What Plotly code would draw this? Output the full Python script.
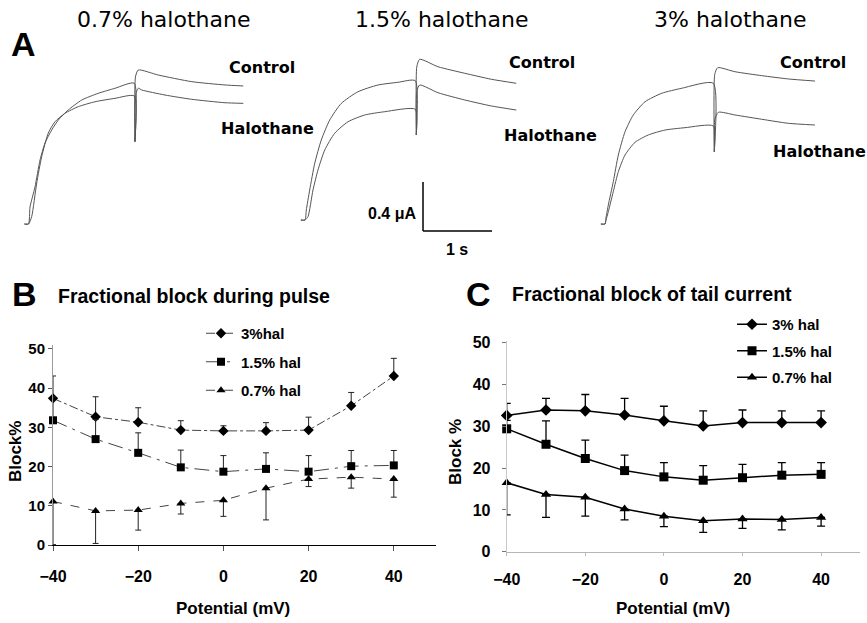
import plotly.graph_objects as go

W, H = 867, 623

# ---------------- Panel A: current traces (time in s, current in uA) ----------------
a_titles = ["0.7% halothane", "1.5% halothane", "3% halothane"]

p1_ctrl_t = [-0.06, 0, 0.022, 0.094, 0.167, 0.239, 0.336, 0.432, 0.577, 0.771, 1.012, 1.254, 1.533, 1.543, 1.55, 1.591, 1.881, 2.365, 2.848, 3.113]
p1_ctrl_i = [0, 0, 0.139, 0.302, 0.522, 0.661, 0.767, 0.849, 0.931, 1.012, 1.067, 1.108, 1.149, 0.672, 1.20, 1.257, 1.216, 1.162, 1.135, 1.127]
p1_hal_t = [-0.06, 0, 0.046, 0.119, 0.191, 0.287, 0.384, 0.529, 0.722, 0.964, 1.254, 1.533, 1.543, 1.55, 1.591, 1.641, 1.978, 2.365, 2.848, 3.113]
p1_hal_i = [0, 0, 0.060, 0.335, 0.549, 0.743, 0.835, 0.904, 0.958, 0.998, 1.026, 1.045, 0.672, 1.05, 1.108, 1.094, 1.053, 1.018, 0.990, 0.985]

p2_ctrl_t = [-0.06, 0, 0.019, 0.068, 0.141, 0.236, 0.358, 0.526, 0.768, 1.058, 1.348, 1.599, 1.613, 1.62, 1.662, 1.928, 2.314, 2.700, 3.062]
p2_ctrl_i = [0, 0, 0.082, 0.245, 0.463, 0.653, 0.816, 0.952, 1.047, 1.102, 1.124, 1.137, 0.694, 1.25, 1.312, 1.251, 1.198, 1.149, 1.116]
p2_hal_t = [-0.06, 0, 0.043, 0.116, 0.188, 0.286, 0.430, 0.623, 0.865, 1.155, 1.599, 1.613, 1.62, 1.662, 1.928, 2.314, 2.700, 3.062]
p2_hal_i = [0, 0, 0.027, 0.245, 0.408, 0.571, 0.708, 0.802, 0.857, 0.884, 0.904, 0.694, 1.05, 1.102, 1.039, 0.980, 0.931, 0.898]

p3_ctrl_t = [-0.06, 0, 0.014, 0.048, 0.120, 0.193, 0.290, 0.410, 0.580, 0.822, 1.112, 1.570, 1.584, 1.59, 1.633, 1.884, 2.271, 2.657, 3.043]
p3_ctrl_i = [0, 0, 0.049, 0.155, 0.345, 0.563, 0.753, 0.890, 0.998, 1.067, 1.108, 1.149, 0.590, 1.22, 1.276, 1.243, 1.211, 1.184, 1.167]
p3_hal_t = [-0.06, 0, 0.014, 0.048, 0.120, 0.193, 0.290, 0.435, 0.628, 0.870, 1.159, 1.570, 1.584, 1.59, 1.642, 1.884, 2.271, 2.657, 3.043]
p3_hal_i = [0, 0, 0.03, 0.100, 0.264, 0.427, 0.563, 0.667, 0.727, 0.767, 0.786, 0.800, 0.590, 0.85, 0.912, 0.890, 0.855, 0.822, 0.808]

scale_current = 0.4  # uA
scale_time = 1.0     # s

# ---------------- Panels B and C ----------------
potential = [-40, -30, -20, -10, 0, 10, 20, 30, 40]
series_names_B = ["3%hal", "1.5% hal", "0.7% hal"]
series_names_C = ["3% hal", "1.5% hal", "0.7% hal"]

B_3 = [37.4, 32.7, 31.3, 29.3, 29.1, 29.1, 29.3, 35.5, 43.1]
B_3_err = [5.7, 5.1, 3.7, 2.4, 1.3, 2.1, 3.3, 3.4, 4.5]
B_15 = [31.8, 27.0, 23.5, 19.8, 18.7, 19.4, 18.7, 20.1, 20.3]
B_15_err = [6.0, 5.0, 5.1, 4.4, 4.1, 4.1, 4.1, 4.0, 3.8]
B_07 = [11.1, 8.7, 8.9, 10.6, 11.4, 14.5, 16.8, 17.3, 16.8]
B_07_err = [11.0, 8.3, 5.1, 2.7, 4.1, 8.1, 1.9, 2.8, 4.6]

C_3 = [32.6, 33.9, 33.7, 32.7, 31.3, 30.1, 30.9, 30.9, 30.9]
C_3_err = [2.9, 2.8, 3.9, 4.0, 3.5, 3.6, 3.0, 2.8, 2.8]
C_15 = [29.4, 25.7, 22.3, 19.4, 17.9, 17.1, 17.7, 18.3, 18.5]
C_15_err = [2.0, 5.6, 4.4, 3.7, 3.4, 3.5, 3.2, 3.0, 2.8]
C_07 = [16.5, 13.7, 13.0, 10.2, 8.5, 7.4, 7.8, 7.7, 8.2]
C_07_err = [7.7, 5.5, 4.5, 2.6, 2.5, 2.8, 2.2, 2.5, 2.1]

x_ticks = [-40, -20, 0, 20, 40]

# ---------------- layout helpers (pixel geometry) ----------------
def fx(px):
    return px / W

def fy(py):
    return 1 - py / H

PX_PER_S = 69.0
PX_PER_UA = 122.5
A_TOP, A_BOT = 40, 262
a_panels = [
    dict(x0=12, x1=287, ox=28.5, oy=224),
    dict(x0=290, x1=578, ox=305, oy=220),
    dict(x0=590, x1=866, ox=605, oy=224),
]

BOLD = "Liberation Sans, Arial, sans-serif"
TRACE_COLOR = "#555555"

fig = go.Figure()

a_data = [
    (p1_ctrl_t, p1_ctrl_i, p1_hal_t, p1_hal_i),
    (p2_ctrl_t, p2_ctrl_i, p2_hal_t, p2_hal_i),
    (p3_ctrl_t, p3_ctrl_i, p3_hal_t, p3_hal_i),
]
for k, (ct, ci, ht, hi) in enumerate(a_data):
    ax = "" if k == 0 else str(k + 1)
    for tt, ii in ((ct, ci), (ht, hi)):
        fig.add_trace(go.Scatter(x=tt, y=ii, mode="lines", xaxis="x" + ax, yaxis="y" + ax,
                                 line=dict(color=TRACE_COLOR, width=1, shape="spline", smoothing=0.6),
                                 showlegend=False, hoverinfo="skip"))

for k, p in enumerate(a_panels):
    ax = "" if k == 0 else str(k + 1)
    xr = [(p["x0"] - p["ox"]) / PX_PER_S, (p["x1"] - p["ox"]) / PX_PER_S]
    yr = [(p["oy"] - A_BOT) / PX_PER_UA, (p["oy"] - A_TOP) / PX_PER_UA]
    fig.update_layout(**{
        "xaxis" + ax: dict(domain=[fx(p["x0"]), fx(p["x1"])], range=xr, visible=False,
                           anchor="y" + ax, automargin=False),
        "yaxis" + ax: dict(domain=[fy(A_BOT), fy(A_TOP)], range=yr, visible=False,
                           anchor="x" + ax, automargin=False),
    })

# Scale bar in panel A2
sb_t0 = (423 - a_panels[1]["ox"]) / PX_PER_S
sb_i0 = (a_panels[1]["oy"] - 231) / PX_PER_UA
shapes = [
    dict(type="line", xref="x2", yref="y2", x0=sb_t0, x1=sb_t0, y0=sb_i0, y1=sb_i0 + scale_current,
         line=dict(color="black", width=1.5)),
    dict(type="line", xref="x2", yref="y2", x0=sb_t0, x1=sb_t0 + scale_time, y0=sb_i0, y1=sb_i0,
         line=dict(color="black", width=1.5)),
]

# ---------------- Panel B ----------------
B_series = [
    (B_3, B_3_err, "diamond", "dashdot", False),
    (B_15, B_15_err, "square", "longdashdot", False),
    (B_07, B_07_err, "triangle-up", "dash", True),
]
for name, (vals, err, sym, dash, down) in zip(series_names_B, B_series):
    zeros = [0] * len(err)
    fig.add_trace(go.Scatter(
        x=potential, y=vals, name=name, mode="lines+markers", xaxis="x4", yaxis="y4",
        legend="legend", legendgroup="B" + name, cliponaxis=False,
        line=dict(color="#444444", width=1, dash=dash),
        marker=dict(symbol=sym, size=8, color="black"),
        error_y=dict(type="data", symmetric=False, array=zeros if down else err,
                     arrayminus=err if down else zeros, color="#222222", thickness=1, width=3),
    ))

C_series = [
    (C_3, C_3_err, "diamond", False),
    (C_15, C_15_err, "square", False),
    (C_07, C_07_err, "triangle-up", True),
]
for name, (vals, err, sym, down) in zip(series_names_C, C_series):
    zeros = [0] * len(err)
    fig.add_trace(go.Scatter(
        x=potential, y=vals, name=name, mode="lines+markers", xaxis="x5", yaxis="y5",
        legend="legend2", legendgroup="C" + name, cliponaxis=False,
        line=dict(color="black", width=1.5),
        marker=dict(symbol=sym, size=9, color="black"),
        error_y=dict(type="data", symmetric=False, array=zeros if down else err,
                     arrayminus=err if down else zeros, color="black", thickness=1.3, width=4),
    ))

tickfont = dict(family=BOLD, size=16, color="black", weight="bold")
fig.update_layout(
    xaxis4=dict(domain=[fx(53), fx(436.4)], range=[-40, 50], anchor="y4", automargin=False,
                tickvals=x_ticks, ticks="outside", ticklen=5, tickcolor="#555",
                showline=True, linecolor="black", linewidth=1, showgrid=False, zeroline=False,
                tickfont=tickfont, ticklabelstandoff=12),
    yaxis4=dict(domain=[fy(545), fy(345)], range=[0, 51], anchor="x4", automargin=False,
                tickvals=[0, 10, 20, 30, 40, 50], ticks="outside", ticklen=4, tickcolor="#555",
                showline=True, linecolor="#9a9a9a", linewidth=1, showgrid=False, zeroline=False,
                tickfont=dict(family=BOLD, size=15, color="black", weight="bold")),
    xaxis5=dict(domain=[fx(506.7), fx(860.4)], range=[-40, 50], anchor="y5", automargin=False,
                tickvals=x_ticks, ticks="outside", ticklen=3, tickcolor="#bbb",
                showline=True, linecolor="#b5b5b5", linewidth=1, showgrid=False, zeroline=False,
                tickfont=tickfont, ticklabelstandoff=10),
    yaxis5=dict(domain=[fy(551.7), fy(340.6)], range=[0, 50.5], anchor="x5", automargin=False,
                tickvals=[0, 10, 20, 30, 40, 50], ticks="outside", ticklen=4, tickcolor="#777",
                showline=True, linecolor="#c8c8c8", linewidth=1, showgrid=False, zeroline=False,
                tickfont=dict(family=BOLD, size=16, color="black", weight="bold"),
                ticklabelstandoff=8),
)

legend_font = dict(family=BOLD, size=15, color="black", weight="bold")
fig.update_layout(
    legend=dict(x=fx(201), y=fy(317), xanchor="left", yanchor="top", font=legend_font,
                bgcolor="rgba(0,0,0,0)", tracegroupgap=6, itemwidth=30, traceorder="grouped"),
    legend2=dict(x=fx(732), y=fy(308), xanchor="left", yanchor="top", font=legend_font,
                 bgcolor="rgba(0,0,0,0)", tracegroupgap=4, itemwidth=30, traceorder="grouped"),
)

# ---------------- Text ----------------
def ann(text, x, y, size, family=BOLD, bold=True, xanchor="center", yanchor="middle", angle=0):
    return dict(text=("<b>%s</b>" % text) if bold else text, x=fx(x), y=fy(y), xref="paper",
                yref="paper", showarrow=False, xanchor=xanchor, yanchor=yanchor, textangle=angle,
                font=dict(family=family, size=size, color="black"))

DEJ = "DejaVu Sans, sans-serif"
annotations = [
    ann("A", 23, 44, 34),
    ann(a_titles[0], 163, 20, 22, family=DEJ, bold=False),
    ann(a_titles[1], 442, 20, 22, family=DEJ, bold=False),
    ann(a_titles[2], 730, 20, 22, family=DEJ, bold=False),
    ann("Control", 262, 68, 16, family=DEJ),
    ann("Halothane", 219, 128, 16, family=DEJ, xanchor="left"),
    ann("Control", 542, 62, 16, family=DEJ),
    ann("Halothane", 502, 135, 16, family=DEJ, xanchor="left"),
    ann("Control", 813, 62, 16, family=DEJ),
    ann("Halothane", 771, 152, 16, family=DEJ, xanchor="left"),
    ann("0.4 \u03bcA", 418, 213, 16, xanchor="right"),
    ann("1 s", 457, 249, 16),
    ann("B", 24, 294, 34),
    ann("Fractional block during pulse", 56, 296, 19.5, xanchor="left"),
    ann("C", 478, 294, 34),
    ann("Fractional block of tail current", 510, 294, 19.5, xanchor="left"),
    ann("Block%", 15, 452, 17, angle=-90),
    ann("Block %", 455, 452, 17, angle=-90),
    ann("Potential (mV)", 233, 608, 17),
    ann("Potential (mV)", 673, 608, 17),
]

fig.update_layout(
    width=W, height=H, margin=dict(l=0, r=0, t=0, b=0, autoexpand=False),
    paper_bgcolor="white", plot_bgcolor="white",
    shapes=shapes, annotations=annotations, showlegend=True,
    font=dict(family=BOLD, color="black"),
)

fig.write_html("out.html", config={"displayModeBar": False},
               post_script="document.body.style.margin='0px';document.body.style.overflow='hidden';")
